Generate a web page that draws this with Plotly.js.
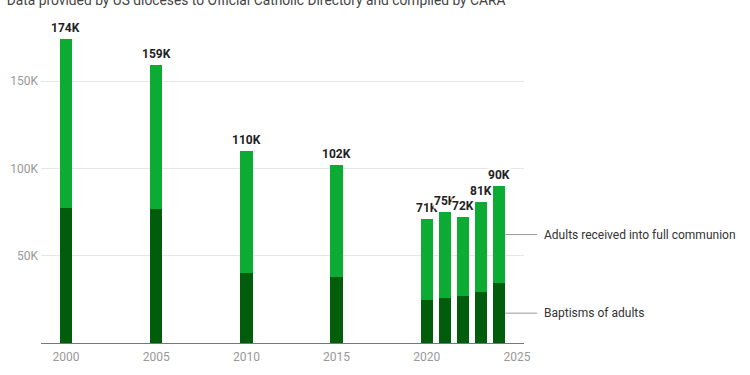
<!DOCTYPE html>
<html>
<head>
<meta charset="utf-8">
<script src="https://cdn.plot.ly/plotly-3.0.1.min.js"></script>
<style>html,body{margin:0;padding:0;background:#fff;}#chart{width:750px;height:375px;}</style>
</head>
<body>
<div id="chart"></div>
<script>
// Data (thousands)
const years = [2000, 2005, 2010, 2015, 2020, 2021, 2022, 2023, 2024];
const baptisms = [77.3, 76.7, 40.3, 37.6, 24.6, 26.0, 27.1, 29.4, 34.2];
const totals = [174, 159, 110, 102, 71, 75, 72, 81, 90];
const totalLabels = ["174K", "159K", "110K", "102K", "71K", "75K", "72K", "81K", "90K"];
const seriesNames = ["Baptisms of adults", "Adults received into full communion"];
const yTickVals = [50, 100, 150];
const yTickText = ["50K", "100K", "150K"];
const xTickVals = [2000, 2005, 2010, 2015, 2020, 2025];
const titleText = "Data provided by US dioceses to Official Catholic Directory and compiled by CARA";

const received = totals.map((t, i) => +(t - baptisms[i]).toFixed(1));

const BARW = 0.69;
const DARK = '#015c0b';
const LIGHT = '#0cab33';
const FONT = 'Roboto, "Noto Sans", sans-serif';

const traces = [
  {type: 'bar', x: years, y: baptisms, name: seriesNames[0], width: BARW,
   marker: {color: DARK, line: {width: 0}}, hoverinfo: 'skip'},
  {type: 'bar', x: years, y: received, name: seriesNames[1], width: BARW,
   marker: {color: LIGHT, line: {width: 0}}, hoverinfo: 'skip'}
];

const annotations = years.map((yr, i) => ({
  x: yr, y: totals[i], xref: 'x', yref: 'y', text: totalLabels[i],
  showarrow: false, yanchor: 'bottom', yshift: 3, bgcolor: '#ffffff', borderpad: 0,
  font: {family: FONT, size: 12, color: '#222', weight: 'bold'}
}));

const last = years.length - 1;
const lastX = years[last] + BARW / 2;
annotations.push({
  x: lastX, y: baptisms[last] + received[last] / 2, xref: 'x', yref: 'y',
  text: seriesNames[1], showarrow: true, arrowhead: 0, arrowwidth: 1, arrowcolor: '#999',
  ax: 32, ay: 0, xanchor: 'left', standoff: 0, borderpad: 6,
  font: {family: FONT, size: 12, color: '#333'}
});
annotations.push({
  x: lastX, y: baptisms[last] / 2, xref: 'x', yref: 'y',
  text: seriesNames[0], showarrow: true, arrowhead: 0, arrowwidth: 1, arrowcolor: '#999',
  ax: 32, ay: 0, xanchor: 'left', standoff: 0, borderpad: 6,
  font: {family: FONT, size: 12, color: '#333'}
});

const layout = {
  width: 750, height: 375,
  margin: {l: 41, r: 226, t: 30, b: 32, pad: 0},
  paper_bgcolor: '#fff', plot_bgcolor: '#fff',
  barmode: 'stack', showlegend: false,
  font: {family: FONT},
  title: {text: titleText, x: 0.009, xanchor: 'left', xref: 'container', y: 1.0, yanchor: 'middle', yref: 'container',
          font: {family: FONT, size: 13.8, color: '#444'}},
  xaxis: {range: [1998.615, 2025.39], tickvals: xTickVals, showgrid: false, zeroline: false,
          showline: true, linecolor: '#777', linewidth: 1, ticks: '',
          tickfont: {family: FONT, size: 12, color: '#999'}, ticklabelstandoff: 3, fixedrange: true},
  yaxis: {range: [0, 179.3], tickvals: yTickVals, ticktext: yTickText, showgrid: true,
          gridcolor: '#e6e6e6', gridwidth: 1, zeroline: false, showline: false, ticks: '',
          tickfont: {family: FONT, size: 12, color: '#999'}, ticklabelstandoff: 2, fixedrange: true},
  annotations: annotations
};

Plotly.newPlot('chart', traces, layout, {displayModeBar: false, staticPlot: true});
</script>
</body>
</html>
